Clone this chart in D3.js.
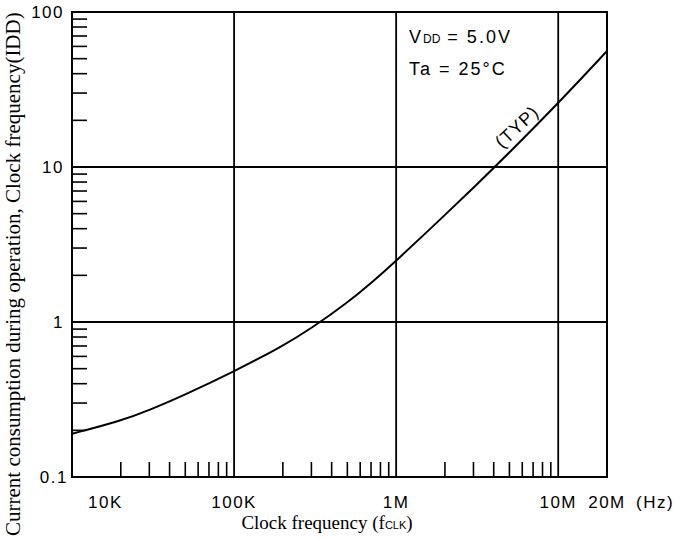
<html>
<head>
<script src="https://d3js.org/d3.v7.min.js" charset="utf-8"></script>
<style>
body { margin:0; background:#ffffff; }
svg text { fill:#000000; }
.tick-label { font-family:"Liberation Sans", sans-serif; font-size:17px; letter-spacing:1.5px; }
.cond { font-family:"Liberation Sans", sans-serif; font-size:18px; letter-spacing:2px; }
.title { font-family:"Liberation Serif", serif; font-size:19px; }
</style>
</head>
<body>
<svg width="694" height="539" id="viz"></svg>
<script>
// clock frequency (Hz) vs typical current consumption (mA)
var freqHz = [1e4, 2e4, 3e4, 5e4, 1e5, 2e5, 3e5, 5e5, 7e5, 1e6, 2e6, 3e6, 5e6, 1e7, 2e7];
var iddMA  = [0.19, 0.23, 0.27, 0.34, 0.48, 0.70, 0.91, 1.33, 1.78, 2.48, 4.9, 7.35, 12.4, 25.8, 56];

var xTickVals = [1e4, 1e5, 1e6, 1e7, 2e7];
var xTickText = ["10K", "100K", "1M", "10M", "20M"];
var yTickVals = [100, 10, 1, 0.1];
var yTickText = ["100", "10", "1", "0.1"];
var xDecades = [1e4, 1e5, 1e6];
var yDecades = [0.1, 1, 10];
var xGrid = [1e5, 1e6, 1e7];
var yGrid = [1, 10];

var xScale = d3.scaleLog().domain([1e4, 2e7]).range([72, 607]);
var yScale = d3.scaleLog().domain([0.1, 100]).range([477, 12]);

var svg = d3.select("#viz");
svg.append("rect").attr("width", 694).attr("height", 539).attr("fill", "#ffffff");

// minor ticks inside the frame
var minors = [2, 3, 4, 5, 6, 7, 8, 9];
var yMinor = [], xMinor = [];
yDecades.forEach(function (d) { minors.forEach(function (k) { yMinor.push(d * k); }); });
xDecades.forEach(function (d) { minors.forEach(function (k) { xMinor.push(d * k); }); });

svg.selectAll(".yminor").data(yMinor).enter().append("line")
	.attr("x1", 72).attr("x2", 87)
	.attr("y1", function (d) { return yScale(d); }).attr("y2", function (d) { return yScale(d); })
	.attr("stroke", "#000").attr("stroke-width", 1.6);
svg.selectAll(".xminor").data(xMinor).enter().append("line")
	.attr("x1", function (d) { return xScale(d); }).attr("x2", function (d) { return xScale(d); })
	.attr("y1", 477).attr("y2", 462)
	.attr("stroke", "#000").attr("stroke-width", 1.6);

// grid
svg.selectAll(".xgrid").data(xGrid).enter().append("line")
	.attr("x1", function (d) { return xScale(d); }).attr("x2", function (d) { return xScale(d); })
	.attr("y1", 12).attr("y2", 477)
	.attr("stroke", "#000").attr("stroke-width", 1.8);
svg.selectAll(".ygrid").data(yGrid).enter().append("line")
	.attr("x1", 72).attr("x2", 607)
	.attr("y1", function (d) { return yScale(d); }).attr("y2", function (d) { return yScale(d); })
	.attr("stroke", "#000").attr("stroke-width", 1.8);
svg.append("rect").attr("x", 72).attr("y", 12).attr("width", 535).attr("height", 465)
	.attr("fill", "none").attr("stroke", "#000").attr("stroke-width", 2);

// curve
var line = d3.line()
	.x(function (d, i) { return xScale(freqHz[i]); })
	.y(function (d) { return yScale(d); })
	.curve(d3.curveBasis);
svg.append("path").attr("d", line(iddMA))
	.attr("fill", "none").attr("stroke", "#000").attr("stroke-width", 2);

// tick labels
svg.selectAll(".ylab").data(yTickVals).enter().append("text")
	.attr("class", "tick-label")
	.attr("x", function (d) { return d === 0.1 ? 68 : 64; })
	.attr("y", function (d) { return yScale(d); })
	.attr("dy", "0.35em")
	.attr("text-anchor", "end")
	.text(function (d, i) { return yTickText[i]; });

svg.selectAll(".xlab").data(xTickVals).enter().append("text")
	.attr("class", "tick-label")
	.attr("x", function (d) { return d === 1e4 ? xScale(d) + 16 : xScale(d); })
	.attr("y", 508)
	.attr("text-anchor", function (d) { return d === 1e4 ? "start" : "middle"; })
	.text(function (d, i) { return xTickText[i]; });
svg.append("text").attr("class", "tick-label").attr("x", 636).attr("y", 508).text("(Hz)");

// conditions
svg.append("text").attr("class", "cond").attr("x", 409).attr("y", 43)
	.html('V<tspan font-size="12px" letter-spacing="0">DD</tspan> = 5.0V');
svg.append("text").attr("class", "cond").attr("x", 409).attr("y", 75).text("Ta  = 25\u00b0C");

svg.append("text").attr("class", "cond").style("letter-spacing", "1px")
	.attr("transform", "translate(" + xScale(5.9e6) + "," + yScale(17) + ")rotate(-43)")
	.attr("text-anchor", "middle").text("(TYP)");

// axis titles
svg.append("text").attr("class", "title").attr("x", 327).attr("y", 529)
	.attr("text-anchor", "middle")
	.html('Clock frequency (f<tspan font-family="Liberation Sans" font-size="11px">CLK</tspan>)');
svg.append("text").attr("class", "title").style("font-size", "21px")
	.attr("transform", "translate(20,536)rotate(-90)")
	.text("Current consumption during operation, Clock frequency(IDD)");
</script>
</body>
</html>
